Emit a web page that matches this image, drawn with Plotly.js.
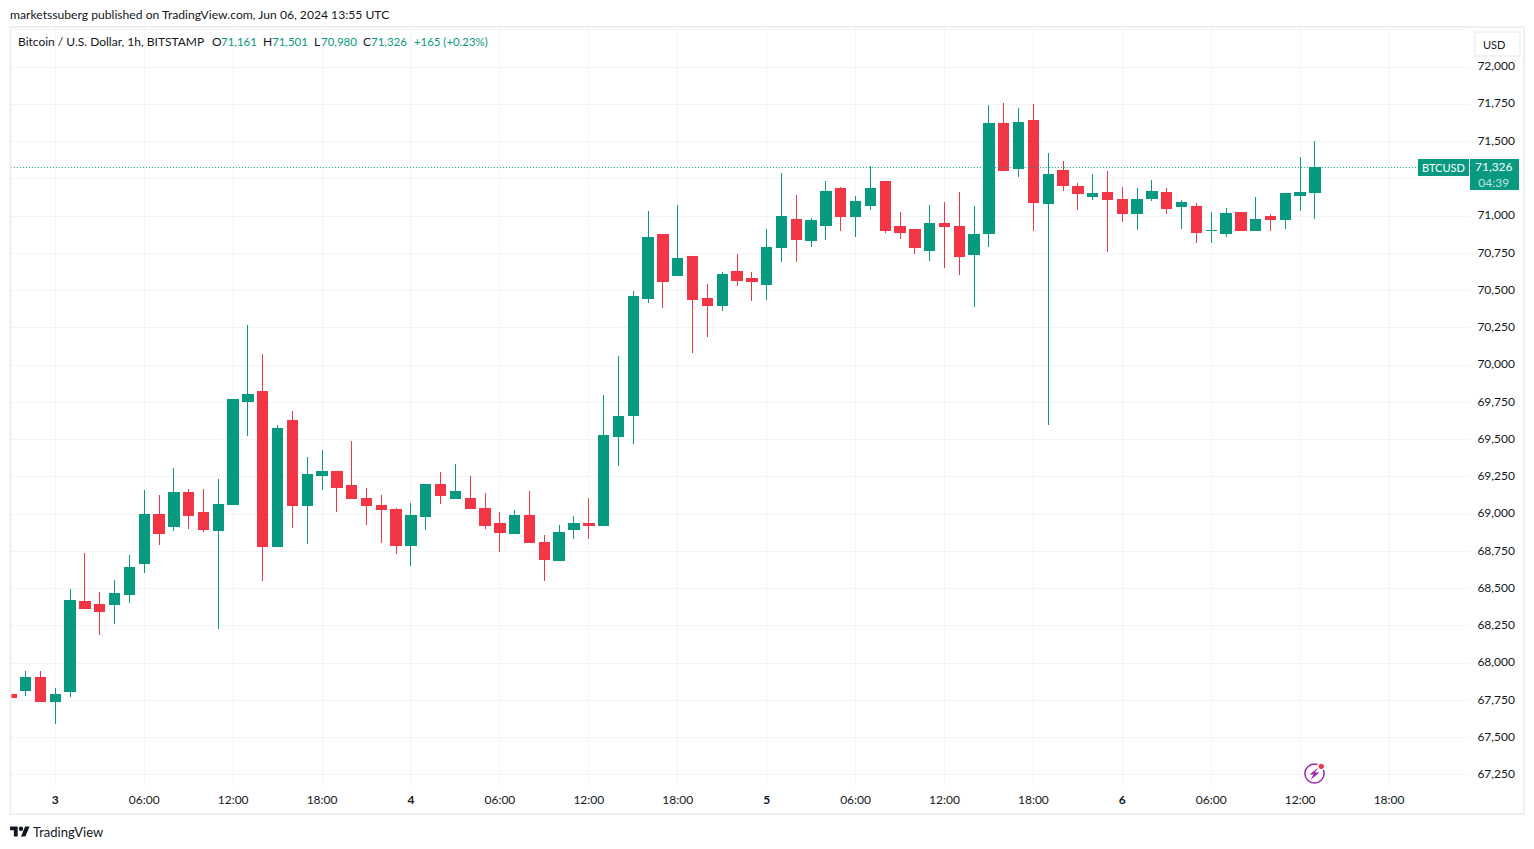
<!DOCTYPE html>
<html><head><meta charset="utf-8">
<script src="https://cdn.plot.ly/plotly-3.0.1.min.js"></script>
<style>html,body{margin:0;padding:0;background:#fff;overflow:hidden}#c{width:1534px;height:849px}
.boxlayer path{shape-rendering:crispEdges !important;stroke-linejoin:miter !important}</style>
</head><body><div id="c"></div>
<script>
const times=["2024-06-02 21:00","2024-06-02 22:00","2024-06-02 23:00",
"2024-06-03 00:00","2024-06-03 01:00","2024-06-03 02:00","2024-06-03 03:00","2024-06-03 04:00","2024-06-03 05:00","2024-06-03 06:00","2024-06-03 07:00","2024-06-03 08:00","2024-06-03 09:00","2024-06-03 10:00","2024-06-03 11:00","2024-06-03 12:00","2024-06-03 13:00","2024-06-03 14:00","2024-06-03 15:00","2024-06-03 16:00","2024-06-03 17:00","2024-06-03 18:00","2024-06-03 19:00","2024-06-03 20:00","2024-06-03 21:00","2024-06-03 22:00","2024-06-03 23:00",
"2024-06-04 00:00","2024-06-04 01:00","2024-06-04 02:00","2024-06-04 03:00","2024-06-04 04:00","2024-06-04 05:00","2024-06-04 06:00","2024-06-04 07:00","2024-06-04 08:00","2024-06-04 09:00","2024-06-04 10:00","2024-06-04 11:00","2024-06-04 12:00","2024-06-04 13:00","2024-06-04 14:00","2024-06-04 15:00","2024-06-04 16:00","2024-06-04 17:00","2024-06-04 18:00","2024-06-04 19:00","2024-06-04 20:00","2024-06-04 21:00","2024-06-04 22:00","2024-06-04 23:00",
"2024-06-05 00:00","2024-06-05 01:00","2024-06-05 02:00","2024-06-05 03:00","2024-06-05 04:00","2024-06-05 05:00","2024-06-05 06:00","2024-06-05 07:00","2024-06-05 08:00","2024-06-05 09:00","2024-06-05 10:00","2024-06-05 11:00","2024-06-05 12:00","2024-06-05 13:00","2024-06-05 14:00","2024-06-05 15:00","2024-06-05 16:00","2024-06-05 17:00","2024-06-05 18:00","2024-06-05 19:00","2024-06-05 20:00","2024-06-05 21:00","2024-06-05 22:00","2024-06-05 23:00",
"2024-06-06 00:00","2024-06-06 01:00","2024-06-06 02:00","2024-06-06 03:00","2024-06-06 04:00","2024-06-06 05:00","2024-06-06 06:00","2024-06-06 07:00","2024-06-06 08:00","2024-06-06 09:00","2024-06-06 10:00","2024-06-06 11:00","2024-06-06 12:00","2024-06-06 13:00"];
const opens=[67793,67820,67907,67740,67807,68417,68397,68397,68458,68666,69001,68914,69142,69008,68887,69068,69759,69820,68786,69625,69061,69256,69283,69189,69108,69061,69028,68793,68981,69196,69102,69108,69041,68934,68867,68994,68807,68692,68900,68934,68927,69524,69665,70450,70873,70598,70732,70444,70397,70625,70584,70538,70792,70980,70839,70940,71188,70994,71074,71235,70927,70907,70772,70953,70933,70739,70880,71624,71322,71638,71081,71309,71195,71128,71155,71108,71020,71121,71155,71061,71061,70900,70880,71027,70900,71000,70974,71135,71161];
const highs=[67867,67948,67948,67834,68498,68739,68478,68558,68726,69162,69129,69310,69169,69169,69236,69766,70269,70075,69598,69692,69383,69430,69283,69491,69175,69129,69041,69075,69196,69283,69337,69256,69142,69014,69028,69155,68860,68927,68988,69108,69799,70061,70497,71034,70880,71074,70732,70544,70625,70745,70625,70913,71289,71141,70987,71235,71195,71135,71336,71235,71027,70913,71074,71094,71161,71068,71745,71758,71725,71752,71423,71369,71222,71282,71302,71195,71188,71242,71188,71108,71088,71027,71054,71027,71128,71014,71148,71396,71501];
const lows=[67726,67780,67746,67592,67773,68364,68189,68263,68404,68605,68793,68887,68900,68880,68229,69068,69524,68552,68786,68907,68800,69162,69014,69102,68927,68806,68733,68652,68894,69068,69102,69041,68900,68746,68867,68806,68552,68692,68833,68833,68927,69323,69471,70417,70383,70598,70081,70189,70363,70531,70430,70437,70692,70692,70792,70839,70900,70860,71041,70886,70846,70745,70699,70652,70605,70390,70792,71309,71262,70900,69598,71168,71041,71108,70759,70960,70906,71101,71014,70913,70819,70819,70859,70900,70900,70900,70913,71034,70980];
const closes=[67773,67907,67746,67787,68424,68364,68350,68471,68645,69001,68867,69142,68994,68900,69068,69766,69806,68780,69578,69061,69263,69283,69182,69102,69055,69028,68793,68988,69196,69122,69149,69041,68927,68880,68994,68813,68699,68874,68934,68921,69531,69652,70457,70853,70564,70712,70437,70397,70605,70571,70558,70792,70994,70846,70967,71168,71000,71101,71182,70900,70893,70792,70953,70927,70732,70873,71618,71309,71631,71088,71282,71202,71148,71148,71114,71020,71108,71168,71054,71088,70893,70906,71014,70900,70980,70974,71148,71161,71326];
const tickHours=["2024-06-03 00:00","2024-06-03 06:00","2024-06-03 12:00","2024-06-03 18:00","2024-06-04 00:00","2024-06-04 06:00","2024-06-04 12:00","2024-06-04 18:00","2024-06-05 00:00","2024-06-05 06:00","2024-06-05 12:00","2024-06-05 18:00","2024-06-06 00:00","2024-06-06 06:00","2024-06-06 12:00","2024-06-06 18:00"];
const tickHourLabels=["<b>3</b>","06:00","12:00","18:00","<b>4</b>","06:00","12:00","18:00","<b>5</b>","06:00","12:00","18:00","<b>6</b>","06:00","12:00","18:00"];
const priceTicks=[72250,72000,71750,71500,71250,71000,70750,70500,70250,70000,69750,69500,69250,69000,68750,68500,68250,68000,67750,67500,67250];
const priceLabels=["","72,000","71,750","71,500","","71,000","70,750","70,500","70,250","70,000","69,750","69,500","69,250","69,000","68,750","68,500","68,250","68,000","67,750","67,500","67,250"];
const lastPrice=71326;

const GREEN="#089981",RED="#F23645",INK="#131722",GRID="#F3F4F6",FRAME="#EEEFF5";
const FONT='Lato, sans-serif';
const W=1534,H=849,L=11,R=1470,T=28,B=785;
const px=x=>(x-L)/(R-L), py=y=>(B-y)/(B-T);
function rect(x0,y0,x1,y1,fill,line,lw){return {type:"rect",xref:"paper",yref:"paper",x0:px(x0),x1:px(x1),y0:py(y0),y1:py(y1),fillcolor:fill,line:{color:line||fill,width:lw===undefined?0:lw},layer:"above"};}
function circ(cx,cy,r,fill,line,lw){return {type:"circle",xref:"paper",yref:"paper",x0:px(cx-r),x1:px(cx+r),y0:py(cy-r),y1:py(cy+r),fillcolor:fill,line:{color:line||fill,width:lw||0},layer:"above"};}
function poly(pts,fill){return {type:"path",xref:"paper",yref:"paper",path:"M"+pts.map(p=>px(p[0])+","+py(p[1])).join("L")+"Z",fillcolor:fill,line:{width:0},layer:"above"};}
function txt(x,y,text,color,size,anchor,extra){return Object.assign({xref:"paper",yref:"paper",x:px(x),y:py(y),text:text,showarrow:false,xanchor:anchor||"left",yanchor:"middle",font:{family:FONT,size:size||12,color:color||INK},borderpad:0,borderwidth:0},extra||{});}

const lg=(x,y)=>[10+x*0.55,824.3+y*0.55];
const shapes=[
 {type:"line",xref:"x",yref:"y",x0:"2024-06-02 21:00",x1:"2024-06-06 19:53",y0:lastPrice,y1:lastPrice,line:{color:GREEN,width:1,dash:"1px,2px"},layer:"above"},
 rect(10.5,27,1524,814,"rgba(0,0,0,0)",FRAME,2),
 rect(1418,159,1469,176,GREEN),
 rect(1470,159,1519,190,GREEN),
 {type:"rect",xref:"paper",yref:"paper",x0:px(1475),x1:px(1520),y0:py(32),y1:py(56),fillcolor:"#fff",line:{color:FRAME,width:1.5},layer:"above"},
 poly([lg(14,22),lg(7,22),lg(7,11),lg(0,11),lg(0,4),lg(14,4)],INK),
 poly([lg(28,22),lg(20,22),lg(27.5,4),lg(35.5,4)],INK),
 circ(lg(20,8)[0],lg(20,8)[1],2.2,INK),
 circ(1314.5,773.5,9.6,"rgba(0,0,0,0)","#9C27B0",1.5),
 poly([[1318.5,767.5],[1309.5,774.5],[1313.5,774.5],[1310.5,780],[1319.5,772.5],[1315,772.5]],"#9C27B0"),
 circ(1321.3,766.3,4.2,"#fff"),
 circ(1321.3,766.3,2.6,"#F23645")
];
const annotations=[
 txt(10,14.5,"marketssuberg published on TradingView.com, Jun 06, 2024 13:55 UTC",INK,12.15),
 txt(18,41.5,"Bitcoin / U.S. Dollar, 1h, BITSTAMP",INK,12),
 txt(212,41.5,"O",INK,12), txt(221,41.5,"71,161",GREEN,11.5),
 txt(263,41.5,"H",INK,12), txt(272,41.5,"71,501",GREEN,11.5),
 txt(314,41.5,"L",INK,12), txt(321,41.5,"70,980",GREEN,11.5),
 txt(363,41.5,"C",INK,12), txt(371,41.5,"71,326",GREEN,11.5),
 txt(414,41.5,"+165 (+0.23%)",GREEN,11.4),
 txt(1483,44.5,"USD",INK,11),
 txt(1443.5,167.5,"BTCUSD","#fff",11,"center"),
 txt(1494,174.5,"71,326<br><span style=\"color:rgba(255,255,255,0.75)\">04:39</span>","#fff",12,"center"),
 txt(33,831.5,"TradingView",INK,13)
];
const trace={type:"candlestick",x:times,open:opens,high:highs,low:lows,close:closes,
 increasing:{line:{color:GREEN,width:1},fillcolor:GREEN},
 decreasing:{line:{color:RED,width:1},fillcolor:RED},
 whiskerwidth:0,hoverinfo:"skip",showlegend:false};
const layout={width:W,height:H,autosize:false,paper_bgcolor:"#fff",plot_bgcolor:"#fff",
 margin:{l:L,r:W-R,t:T,b:H-B,pad:0},boxgap:0.3,boxgroupgap:0,hovermode:false,dragmode:false,showlegend:false,
 font:{family:FONT,size:12,color:INK},
 xaxis:{type:"date",range:["2024-06-02 21:00:40","2024-06-06 23:27:36"],rangeslider:{visible:false},
  tickmode:"array",tickvals:tickHours,ticktext:tickHourLabels,tickangle:0,showgrid:true,gridcolor:GRID,gridwidth:1,
  zeroline:false,showline:false,ticks:"outside",ticklen:4,tickcolor:"rgba(0,0,0,0)",tickfont:{family:FONT,size:12,color:INK}},
 yaxis:{side:"right",range:[67182.8,72261.7],tickmode:"array",tickvals:priceTicks,ticktext:priceLabels,
  showgrid:true,gridcolor:GRID,gridwidth:1,zeroline:false,showline:false,ticks:"outside",ticklen:4,tickcolor:"rgba(0,0,0,0)",
  ticklabelshift:-1,tickfont:{family:FONT,size:12,color:INK}},
 shapes:shapes,annotations:annotations};
Plotly.newPlot("c",[trace],layout,{displayModeBar:false,staticPlot:true});
</script></body></html>
